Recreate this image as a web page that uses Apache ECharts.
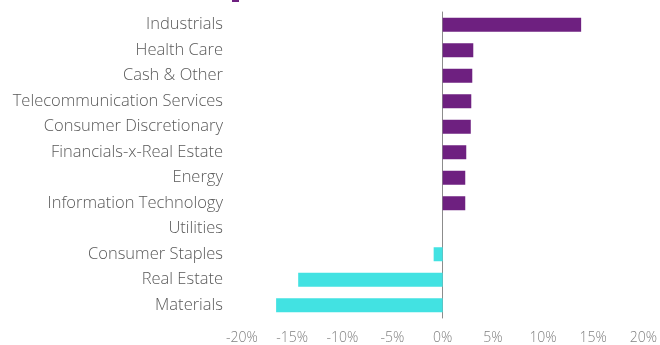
<!DOCTYPE html>
<html><head><meta charset="utf-8">
<script src="https://cdn.jsdelivr.net/npm/echarts@6/dist/echarts.min.js"></script>
<style>html,body{margin:0;padding:0;background:#fff}#c{width:660px;height:345px}</style>
</head><body><div id="c"></div>
<script>
const categories = ["Industrials","Health Care","Cash & Other","Telecommunication Services","Consumer Discretionary","Financials-x-Real Estate","Energy","Information Technology","Utilities","Consumer Staples","Real Estate","Materials"];
const values = [13.8, 3.05, 2.95, 2.85, 2.8, 2.35, 2.25, 2.25, 0, -0.9, -14.4, -16.6];
const tickMin = -20, tickMax = 20, tickStep = 5;
const posColor = "#6E2080", negColor = "#42E2E2";

const chart = echarts.init(document.getElementById('c'));
chart.setOption({
  animation: false,
  grid: {left: 242, right: 15, top: 12, bottom: 27, containLabel: false},
  graphic: [{type: 'rect', shape: {x: 232, y: 0, width: 7, height: 2}, style: {fill: posColor}}],
  xAxis: {
    type: 'value', min: tickMin, max: tickMax, interval: tickStep,
    axisLine: {show: false}, axisTick: {show: false}, splitLine: {show: false},
    axisLabel: {formatter: v => v + '%', color: '#808080', fontFamily: 'Open Sans', fontSize: 14, fontWeight: 300, margin: 13}
  },
  yAxis: {
    type: 'category', data: categories, inverse: true,
    axisLine: {show: true, onZero: true, lineStyle: {color: '#8c8c8c', width: 1}},
    axisTick: {show: false},
    axisLabel: {color: '#595959', fontFamily: 'Open Sans', fontSize: 16.5, fontWeight: 300, margin: 19}
  },
  series: [{
    type: 'bar', barWidth: 14,
    data: values.map(v => ({value: v, itemStyle: {color: v >= 0 ? posColor : negColor}}))
  }]
});
</script></body></html>
